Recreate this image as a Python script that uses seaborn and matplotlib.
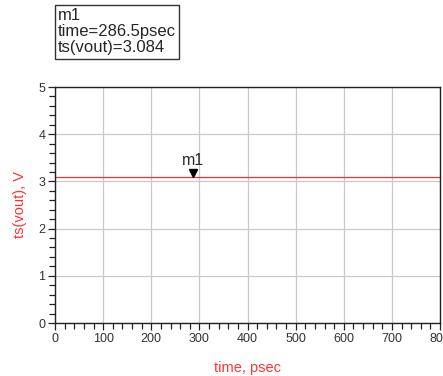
import matplotlib
matplotlib.use("Agg")
import matplotlib.pyplot as plt
import numpy as np
import pandas as pd
import seaborn as sns
from matplotlib.ticker import MultipleLocator

time_ps = [0, 800]
vout = [3.084, 3.084]
marker_time = 286.5
marker_val = 3.084

sns.set_style("white")
plt.rcParams["font.family"] = ["Liberation Sans", "DejaVu Sans"]

fig = plt.figure(figsize=(4.43, 3.76), dpi=100)
ax = fig.add_axes([55 / 443, 53 / 376, 385 / 443, 236 / 376])

df = pd.DataFrame({"time": time_ps, "vout": vout})
sns.lineplot(data=df, x="time", y="vout", ax=ax, color="#d83838", linewidth=0.9)

ax.set_xlim(0, 800)
ax.set_ylim(0, 5)
ax.xaxis.set_major_locator(MultipleLocator(100))
ax.xaxis.set_minor_locator(MultipleLocator(20))
ax.yaxis.set_major_locator(MultipleLocator(1))
ax.yaxis.set_minor_locator(MultipleLocator(0.2))
ax.grid(True, which="major", color="#c8c8c8", linewidth=0.9)
ax.set_axisbelow(True)
for s in ax.spines.values():
    s.set_color("#222222")
    s.set_linewidth(1.0)
ax.tick_params(which="major", direction="out", length=5, width=0.9, color="#222222",
               labelsize=9, labelcolor="#333333", pad=2,
               bottom=True, left=True)
ax.tick_params(which="minor", direction="out", length=4, width=0.9, color="#222222",
               bottom=True, left=True)
for lbl in ax.get_xticklabels():
    lbl.set_clip_on(False)

ax.set_xlabel("time, psec", color="#ff3333", fontsize=10.5, labelpad=12)
ax.set_ylabel("ts(vout), V", color="#ff3333", fontsize=10.5, labelpad=8)

# marker m1
ax.plot([marker_time], [marker_val + 0.09], marker="v", color="black", markersize=6,
        linestyle="none")
ax.text(marker_time, marker_val + 0.2, "m1", ha="center", va="bottom", fontsize=11.5)

fig.text(58 / 443, 1 - 8 / 376, "m1\ntime=%.1fpsec\nts(vout)=%.3f" % (marker_time, marker_val),
         ha="left", va="top", fontsize=12, linespacing=1.1,
         bbox=dict(boxstyle="square,pad=0.2", facecolor="white", edgecolor="#333333",
                   linewidth=1.0))

fig.savefig("out.png", dpi=100)
